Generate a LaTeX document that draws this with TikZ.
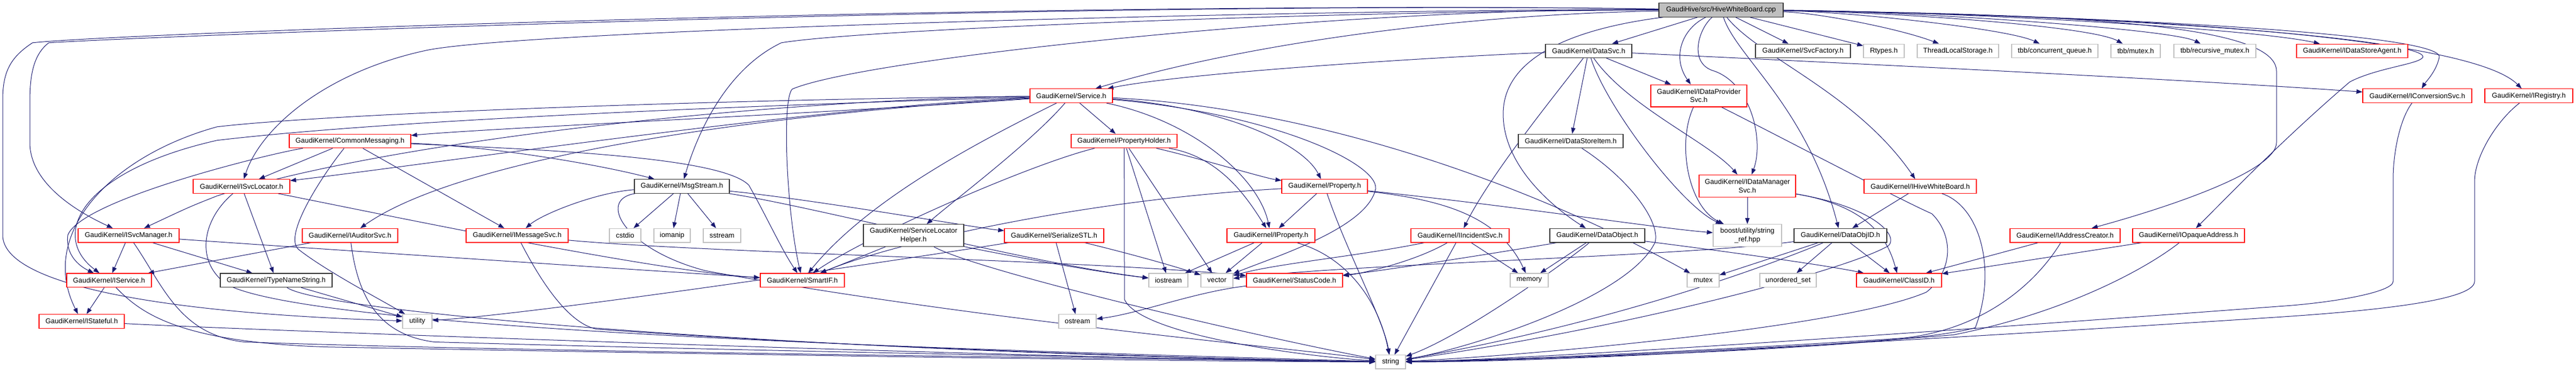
\documentclass[tikz,border=0pt]{standalone}
\usepackage{fontspec}
\setmainfont{Liberation Sans}
\usetikzlibrary{arrows.meta}
\definecolor{edgecol}{RGB}{25,25,112}
\definecolor{nodered}{RGB}{255,0,0}
\definecolor{nodegray}{RGB}{191,191,191}
\definecolor{nodeblack}{RGB}{50,50,50}
\newcommand\nodefont{\fontsize{12.9}{15.2}\selectfont}
\pgfdeclarelayer{bg}
\pgfsetlayers{bg,main}
\begin{document}
\begin{tikzpicture}[x=1pt,y=-1.31346pt,
 nbox/.style={draw, line width=1.2pt, inner sep=0pt, minimum height=25.6pt, font=\nodefont, align=center, fill=white},
 rbox/.style={nbox, draw=nodered},
 kbox/.style={nbox, draw=nodeblack},
 gbox/.style={nbox, draw=nodegray},
 tall/.style={minimum height=40.7pt},
 dep/.style={draw=edgecol, line width=1pt, -{Triangle[length=11pt,width=8pt]}},
]
\useasboundingbox (0,0) rectangle (4747,520);
% row 0
\node[kbox, fill=nodegray, minimum width=229pt] (root) at (3171.5,14) {GaudiHive/src/HiveWhiteBoard.cpp};
% row 1
\node[kbox, minimum width=159pt] (datasvc) at (2927.5,71.5) {GaudiKernel/DataSvc.h};
\node[kbox, minimum width=175pt] (svcfac) at (3322.5,71.5) {GaudiKernel/SvcFactory.h};
\node[gbox, minimum width=75pt] (rtypes) at (3471.5,71.5) {Rtypes.h};
\node[gbox, minimum width=150pt] (tls) at (3608,71.5) {ThreadLocalStorage.h};
\node[gbox, minimum width=159pt] (tbbq) at (3786.5,71.5) {tbb/concurrent\_queue.h};
\node[gbox, minimum width=91pt] (tbbm) at (3935.5,71.5) {tbb/mutex.h};
\node[gbox, minimum width=151pt] (tbbrm) at (4081.5,71.5) {tbb/recursive\_mutex.h};
\node[rbox, minimum width=205pt] (idsa) at (4334.5,71.5) {GaudiKernel/IDataStoreAgent.h};
% row 2
\node[rbox, minimum width=152pt] (service) at (1974,134.5) {GaudiKernel/Service.h};
\node[rbox, tall, minimum width=177pt] (idps) at (3130.5,134.5) {GaudiKernel/IDataProvider\\Svc.h};
\node[rbox, minimum width=201pt] (iconv) at (4454.5,134.5) {GaudiKernel/IConversionSvc.h};
\node[rbox, minimum width=162pt] (ireg) at (4660,134.5) {GaudiKernel/IRegistry.h};
% row 3
\node[rbox, minimum width=224pt] (commsg) at (645,198) {GaudiKernel/CommonMessaging.h};
\node[rbox, minimum width=195pt] (propholder) at (2071.5,198) {GaudiKernel/PropertyHolder.h};
\node[kbox, minimum width=193pt] (dsitem) at (2894.5,198) {GaudiKernel/DataStoreItem.h};
% row 4
\node[rbox, minimum width=178pt] (isvcloc) at (445,261.5) {GaudiKernel/ISvcLocator.h};
\node[kbox, minimum width=175pt] (msgstream) at (1256.5,261.5) {GaudiKernel/MsgStream.h};
\node[rbox, minimum width=158pt] (property) at (2441,261.5) {GaudiKernel/Property.h};
\node[rbox, tall, minimum width=178pt] (idms) at (3220,261) {GaudiKernel/IDataManager\\Svc.h};
\node[rbox, minimum width=207pt] (ihwb) at (3538.5,261.5) {GaudiKernel/IHiveWhiteBoard.h};
% row 5
\node[rbox, minimum width=186pt] (isvcmgr) at (237,330.5) {GaudiKernel/ISvcManager.h};
\node[rbox, minimum width=176pt] (iaud) at (645,330.5) {GaudiKernel/IAuditorSvc.h};
\node[rbox, minimum width=188pt] (imsg) at (953,330.5) {GaudiKernel/IMessageSvc.h};
\node[gbox, minimum width=58pt] (cstdio) at (1152,330.5) {cstdio};
\node[gbox, minimum width=67pt] (iomanip) at (1238.5,330.5) {iomanip};
\node[gbox, minimum width=69pt] (sstream) at (1330.5,330.5) {sstream};
\node[kbox, tall, minimum width=185pt] (slh) at (1683.5,330.5) {GaudiKernel/ServiceLocator\\Helper.h};
\node[rbox, minimum width=183pt] (serstl) at (1942.5,330.5) {GaudiKernel/SerializeSTL.h};
\node[rbox, minimum width=162pt] (iprop) at (2342,330.5) {GaudiKernel/IProperty.h};
\node[rbox, minimum width=181pt] (iinc) at (2690.5,330.5) {GaudiKernel/IIncidentSvc.h};
\node[kbox, minimum width=175pt] (dataobj) at (2943.5,330.5) {GaudiKernel/DataObject.h};
\node[gbox, tall, minimum width=126pt] (boost) at (3220,330.5) {boost/utility/string\\\_ref.hpp};
\node[kbox, minimum width=171pt] (dataobjid) at (3391.5,330.5) {GaudiKernel/DataObjID.h};
\node[rbox, minimum width=203pt] (iaddr) at (3805.5,330.5) {GaudiKernel/IAddressCreator.h};
\node[rbox, minimum width=206pt] (iopaque) at (4033,330.5) {GaudiKernel/IOpaqueAddress.h};
% row 6
\node[rbox, minimum width=156pt] (iservice) at (201,393.5) {GaudiKernel/IService.h};
\node[kbox, minimum width=206pt] (tns) at (509,393.5) {GaudiKernel/TypeNameString.h};
\node[rbox, minimum width=155pt] (smartif) at (1478.5,393.5) {GaudiKernel/SmartIF.h};
\node[gbox, minimum width=72pt] (iostream) at (2153,393.5) {iostream};
\node[gbox, minimum width=59pt] (vector) at (2242.5,393.5) {vector};
\node[rbox, minimum width=177pt] (statuscode) at (2385.5,393.5) {GaudiKernel/StatusCode.h};
\node[gbox, minimum width=70pt] (memory) at (2818,393.5) {memory};
\node[gbox, minimum width=59pt] (mutex) at (3138.5,393.5) {mutex};
\node[gbox, minimum width=104pt] (uset) at (3295,393.5) {unordered\_set};
\node[rbox, minimum width=157pt] (classid) at (3499.5,393.5) {GaudiKernel/ClassID.h};
% row 7
\node[rbox, minimum width=157pt] (istateful) at (150.5,451) {GaudiKernel/IStateful.h};
\node[gbox, minimum width=54pt] (utility) at (769,451) {utility};
\node[gbox, minimum width=69pt] (ostream) at (1985.5,451) {ostream};
% row 8
\node[gbox, minimum width=55pt] (string) at (2562.5,508) {string};

\begin{pgfonlayer}{bg}
% root
\draw[dep] (root) -- (datasvc);
\draw[dep] (root) -- (svcfac);
\draw[dep] (root) -- (rtypes);
\draw[dep] (root) .. controls (3350,18) and (3500,40) .. (tls);
\draw[dep] (root) .. controls (3400,16) and (3700,40) .. (tbbq);
\draw[dep] (root) .. controls (3450,16) and (3850,35) .. (tbbm);
\draw[dep] (root) .. controls (3500,15) and (4000,40) .. (tbbrm);
\draw[dep] (root) .. controls (3600,16) and (4150,40) .. (idsa);
\draw[dep] (root) .. controls (3800,20) and (4500,45) .. (4495,80) .. controls (4490,100) and (4470,115) .. (iconv);
\draw[dep] (root) .. controls (3900,20) and (4550,50) .. (ireg);
\draw[dep] (root) .. controls (3900,20) and (4470,55) .. (4465,80) .. controls (4460,90) and (4380,95) .. (4330,115) .. controls (4200,200) and (4100,280) .. (iopaque);
\draw[dep] (root) .. controls (3900,20) and (4195,40) .. (4195,100) -- (4195,200) .. controls (4195,240) and (4000,290) .. (iaddr);
\draw[dep] (root) .. controls (3240,80) and (3420,130) .. (ihwb);
\draw[dep] (root) .. controls (3200,80) and (3330,150) .. (dataobjid);
\draw[dep] (root) .. controls (3130,40) and (3110,90) .. (3160,100) .. controls (3230,120) and (3250,200) .. (idms);
\draw[dep] (root) .. controls (3100,40) and (3080,80) .. (idps);
\draw[dep] (root) .. controls (2900,40) and (2770,80) .. (2770,160) .. controls (2770,240) and (2880,300) .. (dataobj);
\draw[dep] (root) .. controls (2700,20) and (2300,60) .. (service);
\draw[dep] (root) .. controls (2500,10) and (1600,80) .. (1460,125) .. controls (1440,140) and (1450,300) .. (smartif);
\draw[dep] (root) .. controls (2500,15) and (1600,40) .. (1440,60) .. controls (1330,100) and (1280,200) .. (msgstream);
\draw[dep] (root) .. controls (2500,12) and (1000,40) .. (790,70) .. controls (600,100) and (480,180) .. (isvcloc);
\draw[dep] (root) .. controls (2000,0) and (300,50) .. (90,60) .. controls (55,80) and (55,120) .. (55,150) -- (55,200) .. controls (55,260) and (150,300) .. (isvcmgr);
\draw[dep] (root) .. controls (2000,0) and (250,45) .. (60,60) .. controls (20,80) and (5,100) .. (5,140) -- (5,330) .. controls (5,400) and (300,440) .. (utility);
% DataSvc
\draw[dep] (datasvc) .. controls (2700,78) and (2200,100) .. (service);
\draw[dep] (datasvc) -- (idps);
\draw[dep] (datasvc) .. controls (3000,150) and (3150,200) .. (idms);
\draw[dep] (datasvc) .. controls (3300,85) and (4000,110) .. (iconv);
\draw[dep] (datasvc) -- (dsitem);
\draw[dep] (datasvc) .. controls (2880,120) and (2750,240) .. (iinc);
\draw[dep] (datasvc) .. controls (2960,150) and (3100,290) .. (boost);
% Service
\draw[dep] (service) .. controls (1900,200) and (1760,280) .. (slh);
\draw[dep] (service) -- (propholder);
\draw[dep] (service) .. controls (2200,170) and (2320,250) .. (iprop);
\draw[dep] (service) .. controls (2250,150) and (2400,200) .. (property);
\draw[dep] (service) .. controls (1500,160) and (900,180) .. (commsg);
\draw[dep] (service) .. controls (1500,150) and (800,230) .. (isvcloc);
\draw[dep] (service) .. controls (1300,150) and (700,170) .. (400,197) .. controls (150,240) and (90,330) .. (iservice);
\draw[dep] (service) .. controls (1300,140) and (600,160) .. (400,178) .. controls (200,220) and (70,330) .. (istateful);
\draw[dep] (service) .. controls (1400,160) and (850,220) .. (iaud);
\draw[dep] (service) .. controls (1800,200) and (1600,280) .. (smartif);
\draw[dep] (service) .. controls (2350,160) and (2540,230) .. (2535,265) .. controls (2520,320) and (2350,360) .. (vector);
\draw[dep] (service) .. controls (2400,150) and (2800,250) .. (mutex);
\draw[dep] (service) .. controls (1400,140) and (700,200) .. (400,275) .. controls (350,290) .. (isvcmgr);
% CommonMessaging
\draw[dep] (commsg) -- (isvcloc);
\draw[dep] (commsg) .. controls (500,215) and (150,280) .. (125,330) .. controls (120,360) and (150,375) .. (iservice);
\draw[dep] (commsg) -- (imsg);
\draw[dep] (commsg) .. controls (600,240) and (520,330) .. (550,350) .. controls (600,380) and (700,420) .. (utility);
\draw[dep] (commsg) .. controls (900,205) and (1100,230) .. (msgstream);
\draw[dep] (commsg) .. controls (1000,210) and (1330,220) .. (1380,260) .. controls (1410,300) and (1440,350) .. (smartif);
% ISvcLocator
\draw[dep] (isvcloc) -- (tns);
\draw[dep] (isvcloc) .. controls (700,300) and (1200,380) .. (smartif);
\draw[dep] (isvcloc) .. controls (370,310) and (360,370) .. (420,400) .. controls (600,470) and (2000,495) .. (string);
% ISvcManager
\draw[dep] (isvcmgr) -- (iservice);
\draw[dep] (isvcmgr) -- (tns);
\draw[dep] (isvcmgr) .. controls (500,345) and (1200,380) .. (smartif);
\draw[dep] (isvcmgr) .. controls (300,400) and (330,470) .. (450,480) .. controls (1000,495) and (2300,505) .. (string);
% IService, IStateful, TypeNameString
\draw[dep] (iservice) -- (istateful);
\draw[dep] (iservice) .. controls (260,440) and (330,480) .. (600,487) .. controls (1500,500) and (2300,508) .. (string);
\draw[dep] (istateful) .. controls (500,465) and (2000,505) .. (string);
\draw[dep] (tns) -- (utility);
\draw[dep] (tns) .. controls (600,440) and (1500,495) .. (string);
% IAuditorSvc, IMessageSvc
\draw[dep] (iaud) -- (iservice);
\draw[dep] (iaud) .. controls (660,420) and (700,470) .. (800,480) .. controls (1500,495) and (2300,505) .. (string);
\draw[dep] (imsg) .. controls (1000,400) and (1050,455) .. (1100,462) .. controls (1600,490) and (2300,505) .. (string);
\draw[dep] (imsg) .. controls (1300,355) and (2000,365) .. (statuscode);
% MsgStream
\draw[dep] (msgstream) -- (cstdio);
\draw[dep] (msgstream) -- (iomanip);
\draw[dep] (msgstream) -- (sstream);
\draw[dep] (msgstream) .. controls (1100,270) and (1000,300) .. (imsg);
\draw[dep] (msgstream) .. controls (1500,280) and (1800,320) .. (serstl);
\draw[dep] (msgstream) .. controls (1100,280) and (1150,350) .. (1300,380) .. controls (1800,450) and (2400,490) .. (string);
\draw[dep] (msgstream) .. controls (1500,290) and (1900,370) .. (iostream);
% ServiceLocatorHelper
\draw[dep] (slh) -- (smartif);
\draw[dep] (slh) .. controls (1800,380) and (2300,470) .. (string);
\draw[dep] (slh) .. controls (1800,350) and (2000,380) .. (iostream);
% SerializeSTL
\draw[dep] (serstl) -- (ostream);
\draw[dep] (serstl) .. controls (2050,350) and (2150,370) .. (vector);
\draw[dep] (serstl) .. controls (1700,360) and (1000,440) .. (utility);
% PropertyHolder
\draw[dep] (propholder) -- (iostream);
\draw[dep] (propholder) -- (vector);
\draw[dep] (propholder) .. controls (2200,220) and (2330,250) .. (property);
\draw[dep] (propholder) .. controls (2250,220) and (2300,280) .. (iprop);
\draw[dep] (propholder) .. controls (2072,300) and (2072,400) .. (2072,420) .. controls (2100,470) and (2400,500) .. (string);
\draw[dep] (propholder) .. controls (1900,230) and (1600,330) .. (smartif);
% Property
\draw[dep] (property) -- (iprop);
\draw[dep] (property) .. controls (2480,350) and (2550,450) .. (string);
\draw[dep] (property) .. controls (2000,280) and (1650,340) .. (smartif);
\draw[dep] (property) .. controls (2650,280) and (2760,300) .. (memory);
\draw[dep] (property) .. controls (2800,290) and (3050,320) .. (boost);
% IProperty
\draw[dep] (iprop) .. controls (2480,360) and (2540,420) .. (string);
\draw[dep] (iprop) -- (vector);
\draw[dep] (iprop) -- (iostream);
% IIncidentSvc
\draw[dep] (iinc) -- (string);
\draw[dep] (iinc) -- (memory);
\draw[dep] (iinc) .. controls (2500,360) and (2350,370) .. (vector);
\draw[dep] (iinc) .. controls (2600,370) and (2500,385) .. (statuscode);
% StatusCode
\draw[dep] (statuscode) .. controls (2200,410) and (2100,440) .. (ostream);
% DataObject
\draw[dep] (dataobj) -- (memory);
\draw[dep] (dataobj) .. controls (2900,360) and (2700,470) .. (string);
\draw[dep] (dataobj) .. controls (2800,350) and (2550,380) .. (statuscode);
\draw[dep] (dataobj) .. controls (3100,345) and (3350,370) .. (classid);
% DataStoreItem
\draw[dep] (dsitem) .. controls (3000,250) and (3060,310) .. (3050,340) .. controls (3000,420) and (2700,490) .. (string);
% IDataProviderSvc
\draw[dep] (idps) .. controls (3090,200) and (3110,290) .. (boost);
\draw[dep] (idps) .. controls (3250,180) and (3500,280) .. (3560,300) .. controls (3600,330) and (3600,380) .. (3550,410) .. controls (3400,460) and (2800,500) .. (string);
% IDataManagerSvc
\draw[dep] (idms) -- (boost);
\draw[dep] (idms) .. controls (3450,290) and (3480,340) .. (classid);
\draw[dep] (idms) .. controls (3450,290) and (3500,330) .. (3480,345) .. controls (3400,380) and (3000,460) .. (string);
% IHiveWhiteBoard
\draw[dep] (ihwb) -- (dataobjid);
\draw[dep] (ihwb) .. controls (3650,290) and (3680,380) .. (3640,460) .. controls (3500,490) and (2800,505) .. (string);
% DataObjID
\draw[dep] (dataobjid) -- (classid);
\draw[dep] (dataobjid) -- (uset);
\draw[dep] (dataobjid) -- (mutex);
\draw[dep] (dataobjid) .. controls (3300,360) and (3000,450) .. (string);
\draw[dep] (dataobjid) .. controls (3100,360) and (2500,370) .. (vector);
% IAddressCreator, IOpaqueAddress
\draw[dep] (iaddr) -- (classid);
\draw[dep] (iaddr) .. controls (3750,400) and (3650,465) .. (3500,475) .. controls (3200,490) and (2800,505) .. (string);
\draw[dep] (iopaque) -- (classid);
\draw[dep] (iopaque) .. controls (3950,380) and (3800,440) .. (3600,470) .. controls (3200,495) and (2800,508) .. (string);
% IConversionSvc, IRegistry
\draw[dep] (iconv) .. controls (4420,170) and (4410,220) .. (4410,250) -- (4410,395) .. controls (4410,410) and (4300,425) .. (4200,430) .. controls (3500,470) and (2800,505) .. (string);
\draw[dep] (ireg) .. controls (4600,170) and (4560,220) .. (4560,255) -- (4560,395) .. controls (4560,420) and (4400,435) .. (4200,445) .. controls (3500,480) and (2800,508) .. (string);
\end{pgfonlayer}
\end{tikzpicture}
\end{document}
